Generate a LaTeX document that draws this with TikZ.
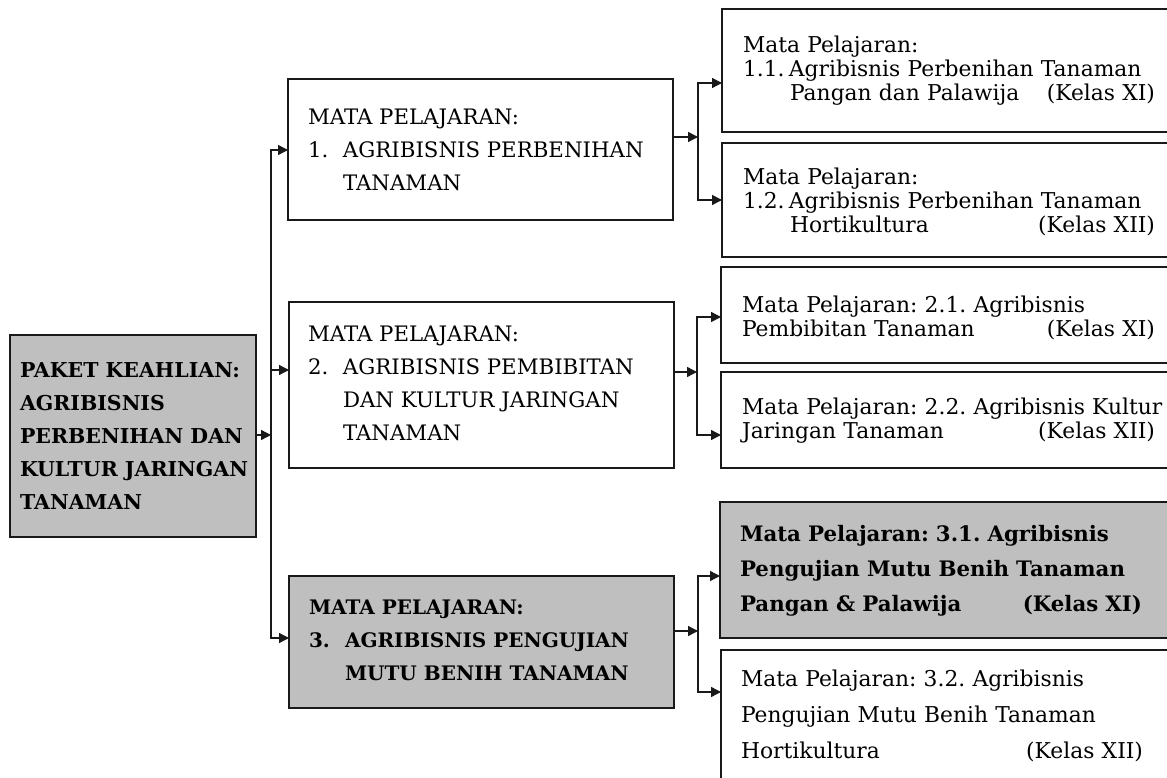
\documentclass[tikz,border=0pt]{standalone}
\usepackage{fontspec}
\setmainfont{DejaVu Serif}
\usetikzlibrary{arrows.meta}
\definecolor{boxgray}{RGB}{191,191,191}
\definecolor{edge}{RGB}{25,25,25}
\frenchspacing
\begin{document}
\frenchspacing
\begin{tikzpicture}[x=1pt,y=-1pt,
  box/.style={draw=edge, line width=1.4pt, inner sep=0pt, outer sep=0pt, anchor=north west},
  grey/.style={fill=boxgray},
  txt/.style={anchor=west, inner sep=0pt, outer sep=0pt, align=left, text=black},
  lft/.style={txt, font=\fontsize{21.3}{33}\selectfont\frenchspacing},
  lftb/.style={txt, font=\fontsize{20}{33}\selectfont\bfseries\frenchspacing},
  rgt/.style={txt, font=\fontsize{21.8}{24}\selectfont\frenchspacing},
  conn/.style={draw=edge, line width=1.4pt},
  arr/.style={conn, -{Triangle[length=10pt,width=10pt]}},
]
\useasboundingbox (0,0) rectangle (1167,778);
\clip (0,0) rectangle (1167,778);

% ---------- boxes ----------
\node[box, grey, minimum width=246pt, minimum height=202pt] (b0) at (10,335) {};
\node[box, minimum width=385pt, minimum height=141pt] (b1) at (288,79) {};
\node[box, minimum width=385pt, minimum height=166pt] (b2) at (289,302) {};
\node[box, grey, minimum width=385pt, minimum height=132pt] (b3) at (289,576) {};

\node[box, minimum width=470pt, minimum height=123pt] (b11) at (722,9) {};
\node[box, minimum width=470pt, minimum height=114pt] (b12) at (722,143) {};
\node[box, minimum width=470pt, minimum height=96pt] (b21) at (721,267) {};
\node[box, minimum width=470pt, minimum height=96pt] (b22) at (721,372) {};
\node[box, grey, minimum width=470pt, minimum height=136pt] (b31) at (720,502) {};
\node[box, minimum width=470pt, minimum height=160pt] (b32) at (721,650) {};

% ---------- texts ----------
\node[lftb, font=\fontsize{20.5}{33}\selectfont\bfseries] (t0) at (20,436)
  {PAKET KEAHLIAN:\\AGRIBISNIS\\PERBENIHAN DAN\\KULTUR JARINGAN\\TANAMAN};
\node[lft] (t1) at (308,150)
  {MATA PELAJARAN:\\\makebox[35pt][l]{1.}AGRIBISNIS PERBENIHAN\\\hspace*{35pt}TANAMAN};
\node[lft] (t2) at (308,383)
  {MATA PELAJARAN:\\\makebox[35pt][l]{2.}AGRIBISNIS PEMBIBITAN\\\hspace*{35pt}DAN KULTUR JARINGAN\\\hspace*{35pt}TANAMAN};
\node[lftb] (t3) at (309,640)
  {MATA PELAJARAN:\\\makebox[36pt][l]{3.}AGRIBISNIS PENGUJIAN\\\hspace*{36pt}MUTU BENIH TANAMAN};

\node[rgt, text width=412pt] (t11) at (743,70.5)
  {\mbox{Mata Pelajaran:}\\\mbox{\makebox[46pt][l]{1.1.}Agribisnis Perbenihan Tanaman}\\\hspace*{47pt}Pangan dan Palawija\hfill(Kelas XI)};
\node[rgt, text width=412pt] (t12) at (743,202)
  {\mbox{Mata Pelajaran:}\\\mbox{\makebox[46pt][l]{1.2.}Agribisnis Perbenihan Tanaman}\\\hspace*{47pt}Hortikultura\hfill(Kelas XII)};
\node[rgt, text width=413pt] (t21) at (742,318)
  {\mbox{Mata Pelajaran: 2.1. Agribisnis}\\Pembibitan Tanaman\hfill(Kelas XI)};
\node[rgt, text width=413pt] (t22) at (742,421)
  {\mbox{Mata Pelajaran: 2.2. Agribisnis Kultur}\\Jaringan Tanaman\hfill(Kelas XII)};
\node[txt, font=\fontsize{21.3}{35}\selectfont\bfseries\frenchspacing, text width=402pt] (t31) at (740,571)
  {\mbox{Mata Pelajaran: 3.1. Agribisnis}\\\mbox{Pengujian Mutu Benih Tanaman}\\Pangan \& Palawija\hfill(Kelas XI)};
\node[txt, font=\fontsize{21.8}{36}\selectfont\frenchspacing, text width=402pt] (t32) at (741,716)
  {\mbox{Mata Pelajaran: 3.2. Agribisnis}\\\mbox{Pengujian Mutu Benih Tanaman}\\Hortikultura\hfill(Kelas XII)};

% ---------- connectors, left trunk ----------
\coordinate (tA) at (271,150);
\coordinate (tB) at (271,370);
\coordinate (tC) at (271,638);
\coordinate (tR) at (271,435);
\draw[arr] (tR -| b0.east) -- (tR);
\draw[arr] (tR) |- (tA -| b1.west);
\draw[arr] (tR) |- (tC -| b3.west);
\draw[arr] (tB) -- (tB -| b2.west);

% ---------- connectors, right branches ----------
\coordinate (u1) at (698,137);
\coordinate (u1a) at (698,83);
\coordinate (u1b) at (698,200);
\draw[arr] (u1 -| b1.east) -- (u1);
\draw[arr] (u1) |- (u1a -| b11.west);
\draw[arr] (u1) |- (u1b -| b12.west);

\coordinate (u2) at (697,372);
\coordinate (u2a) at (697,317);
\coordinate (u2b) at (697,435);
\draw[arr] (u2 -| b2.east) -- (u2);
\draw[arr] (u2) |- (u2a -| b21.west);
\draw[arr] (u2) |- (u2b -| b22.west);

\coordinate (u3) at (698,631);
\coordinate (u3a) at (698,576);
\coordinate (u3b) at (698,692);
\draw[arr] (u3 -| b3.east) -- (u3);
\draw[arr] (u3) |- (u3a -| b31.west);
\draw[arr] (u3) |- (u3b -| b32.west);
\end{tikzpicture}
\end{document}
